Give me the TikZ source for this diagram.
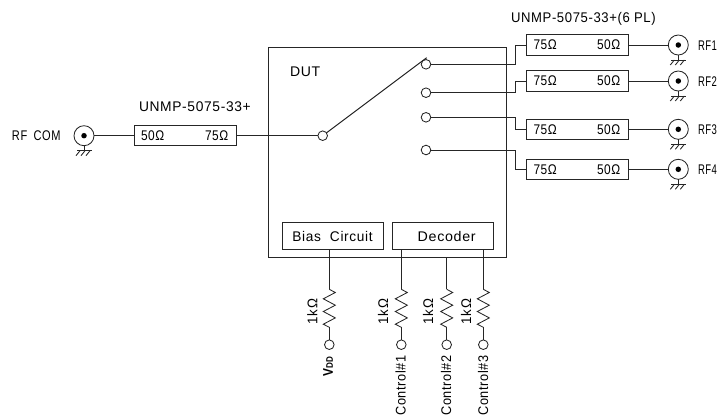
\documentclass[tikz,border=0pt]{standalone}
\usepackage{fontspec}
\setmainfont[FakeStretch=0.85,LetterSpace=4]{Liberation Sans}
\usetikzlibrary{calc}
\tikzset{
  wire/.style={line width=0.85pt,black!85},
  boxn/.style={draw,line width=0.85pt,black!85,inner sep=0pt,outer sep=0pt,rectangle},
  pad/.style={draw,line width=0.85pt,black!85,circle,inner sep=0pt,outer sep=0pt,minimum size=9.6pt,fill=white},
  coax/.style={draw,line width=0.85pt,black!85,circle,inner sep=0pt,outer sep=0pt,minimum size=20pt},
  core/.style={fill=black,circle,inner sep=0pt,outer sep=0pt,minimum size=5.5pt},
  lab/.style={inner sep=0pt,outer sep=0pt,font=\fontsize{14}{14}\selectfont,text=black},
  vlab/.style={lab,rotate=90,anchor=east,xscale=1.07},
  klab/.style={lab,rotate=90,xscale=1.12}
}
\newcommand{\gnd}[1]{%
  \draw[wire] (#1.south) -- ++(0,5) coordinate (g);
  \draw[wire] ($(g)+(-7,0)$) -- ($(g)+(8,0)$);
  \draw[wire] ($(g)+(-4,0)$) -- ++(-4,5);
  \draw[wire] ($(g)+(1,0)$) -- ++(-4,5);
  \draw[wire] ($(g)+(6,0)$) -- ++(-4,5);
}
\newcommand{\zig}[2]{%
  \draw[wire] (#1) -- ($(#1)+(6,3.2)$) -- ($(#1)+(-6,9.5)$) -- ($(#1)+(6,15.9)$) -- ($(#1)+(-6,22.2)$) -- ($(#1)+(6,28.6)$) -- ($(#1)+(-6,34.9)$) -- (#2);
}
\begin{document}
\begin{tikzpicture}[x=1pt,y=-1pt]
\useasboundingbox (0,0) rectangle (719,418);
% DUT
\node[boxn,minimum width=238pt,minimum height=210pt] (dut) at (387,152.5) {};
\node[lab,anchor=west,xscale=1.18] (dutl) at (290,72) {DUT};
\node[pad] (pole) at (322.7,135.7) {};
\node[pad] (t1) at (426,64.3) {};
\node[pad] (t2) at (426,92.7) {};
\node[pad] (t3) at (426,117.3) {};
\node[pad] (t4) at (426,150) {};
\coordinate (blade) at (426.7,57.7);
\draw[wire,line width=1pt] (pole) -- (blade);
% left branch
\node[coax] (com) at (84,135.7) {};
\node[core] (comc) at (84,135.7) {};
\gnd{com}
\node[lab,anchor=west,xscale=0.93] (comt) at (12,136) {RF \hspace{3pt}COM};
\node[boxn,minimum width=102.4pt,minimum height=20pt] (lb) at (185.5,135.7) {};
\node[lab,anchor=west] (l50) at (141,136) {50Ω};
\node[lab,anchor=west] (l75) at (205,136) {75Ω};
\node[lab,anchor=west,xscale=1.16] (lt) at (139,107) {UNMP-5075-33+};
\draw[wire] (com.east) -- (lb.west);
\draw[wire] (lb.east) -- (pole.west);
% right branches
\node[lab,anchor=west,xscale=1.1] (rt) at (511,19) {UNMP-5075-33+(6 PL)};
\foreach \i/\ty/\by in {1/64.3/45,2/92.7/81,3/117.3/129.3,4/150/169.3}{
  \node[boxn,minimum width=102.3pt,minimum height=20.5pt] (b\i) at (577.2,\by) {};
  \node[lab,anchor=west] (a\i) at (533.5,\by) {75Ω};
  \node[lab,anchor=west] (c\i) at (597,\by) {50Ω};
  \node[coax] (rf\i) at (678.3,\by) {};
  \node[core] (rfc\i) at (678.3,\by) {};
  \node[lab,anchor=west,xscale=0.8] (rl\i) at (698,\by+0.5) {RF\i};
  \coordinate (j\i) at (515,\ty);
  \draw[wire] (t\i.east) -- (j\i) |- (b\i.west);
  \draw[wire] (b\i.east) -- (rf\i.west);
  \gnd{rf\i}
}
% bottom boxes
\node[boxn,minimum width=101pt,minimum height=26.3pt] (bias) at (332.8,235.9) {};
\node[boxn,minimum width=100.6pt,minimum height=26.3pt] (dec) at (443,235.9) {};
\node[lab,xscale=1.15] (biast) at (332.5,236) {Bias \hspace{4pt}Circuit};
\node[lab,xscale=1.2] (dect) at (446.7,236) {Decoder};
% control lines
\node[pad] (p0) at (329.3,344.7) {};
\node[pad] (p1) at (401.3,344.7) {};
\node[pad] (p2) at (446.7,344.7) {};
\node[pad] (p3) at (483.3,344.7) {};
\coordinate (s0) at (329.3,249);
\coordinate (s1) at (401.3,249);
\coordinate (s2) at (446.7,257.5);
\coordinate (s3) at (483.3,249);
\foreach \i/\x in {0/329.3,1/401.3,2/446.7,3/483.3}{
  \coordinate (ra\i) at (\x,289.3);
  \coordinate (rb\i) at (\x,327.3);
  \draw[wire] (s\i) -- (ra\i);
  \zig{ra\i}{rb\i}
  \draw[wire] (rb\i) -- (p\i.north);
}
\node[klab] (k0) at (312.3,311.5) {1kΩ};
\node[klab] (k1) at (383,311.5) {1kΩ};
\node[klab] (k2) at (428,311.5) {1kΩ};
\node[klab] (k3) at (466,311.5) {1kΩ};
\node[lab,rotate=90,anchor=east] (v0) at (328,356.5) {\bfseries V\fontsize{9.5}{9.5}\selectfont DD};
\node[vlab] (v1) at (400.7,355.5) {Control\#1};
\node[vlab] (v2) at (446,355.5) {Control\#2};
\node[vlab] (v3) at (483,355.5) {Control\#3};
\end{tikzpicture}
\end{document}
